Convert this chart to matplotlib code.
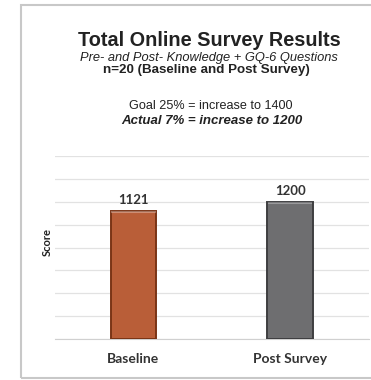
import matplotlib.pyplot as plt
from matplotlib.patches import Rectangle

categories = ["Baseline", "Post Survey"]
scores = [1121, 1200]
bar_colors = ["#B95E38", "#6E6E70"]
edge_colors = ["#7A3416", "#3E3E40"]
grid_ticks = [0, 200, 400, 600, 800, 1000, 1200, 1400, 1600]

fig = plt.figure(figsize=(3.71, 3.80), dpi=100)

# outer panel frame
frame = Rectangle((21 / 371, 2 / 380), 1.0, 373 / 380, transform=fig.transFigure,
                  facecolor="none", edgecolor="#c8c8c8", linewidth=1.5, zorder=-1)
fig.patches.append(frame)

ax = fig.add_axes([55 / 371, 1 - 339 / 380, 313.5 / 371, 183 / 380])
ax.set_facecolor("none")

x = range(len(categories))
bars = ax.bar(x, scores, width=0.29, color=bar_colors, edgecolor=edge_colors,
              linewidth=1.4, zorder=3)
# lighter top edge for a bevelled look
for b in bars:
    ax.plot([b.get_x() + 0.01, b.get_x() + b.get_width() - 0.01],
            [b.get_height() - 10, b.get_height() - 10], color="white", alpha=0.3,
            linewidth=1.5, zorder=4)

for b, v in zip(bars, scores):
    ax.text(b.get_x() + b.get_width() / 2, v + 40, str(v), ha="center", va="bottom",
            fontsize=9.5, fontweight="bold", color="#333333", family="Lato")

ax.set_xlim(-0.5, 1.5)
ax.set_ylim(0, 1600)
ax.set_yticks(grid_ticks)
ax.set_yticklabels([])
ax.tick_params(axis="y", length=0)
ax.grid(axis="y", color="#e2e2e2", linewidth=0.9, zorder=0)
ax.set_axisbelow(True)
for s in ["top", "right", "left"]:
    ax.spines[s].set_visible(False)
ax.spines["bottom"].set_color("#d0d0d0")
ax.set_xticks(list(x))
ax.set_xticklabels(categories, fontsize=10, fontweight="bold", color="#333333",
                   family="Lato")
ax.tick_params(axis="x", length=0, pad=10)

fig.text(47 / 371, 1 - 242 / 380, "Score", rotation=90, ha="center", va="center",
         fontsize=8, fontweight="bold", family="Lato", color="#222222")

cx = 209 / 371
fig.text(cx, 1 - 41 / 380, "Total Online Survey Results", ha="center", va="center",
         fontsize=14.3, fontweight="bold", family="Liberation Sans", color="#222222")
fig.text(cx, 1 - 57.5 / 380, "Pre- and Post- Knowledge + GQ-6 Questions", ha="center",
         va="center", fontsize=9.3, style="italic", family="Liberation Sans",
         color="#222222")
fig.text(cx - 3 / 371, 1 - 70.5 / 380, "n=20 (Baseline and Post Survey)", ha="center",
         va="center", fontsize=9.6, fontweight="bold", family="Liberation Sans",
         color="#222222")
fig.text(211 / 371, 1 - 106 / 380, "Goal 25% = increase to 1400", ha="center",
         va="center", fontsize=9.1, family="Liberation Sans", color="#222222")
fig.text(212 / 371, 1 - 121.5 / 380, "Actual 7% = increase to 1200", ha="center",
         va="center", fontsize=9.5, fontweight="bold", style="italic",
         family="Liberation Sans", color="#222222")

fig.savefig("out.png", dpi=100)
